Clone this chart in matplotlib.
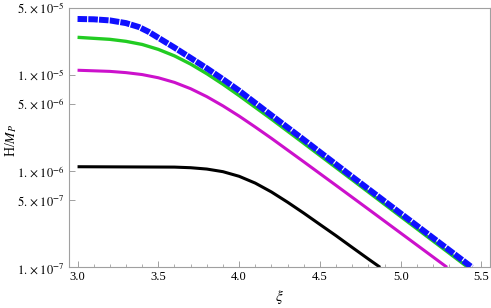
import matplotlib
matplotlib.use("Agg")
import matplotlib.pyplot as plt
from matplotlib.ticker import FixedLocator, FixedFormatter, MultipleLocator, FormatStrFormatter

plt.rcParams['font.family'] = ['Liberation Serif', 'DejaVu Serif']
plt.rcParams['mathtext.fontset'] = 'stix'

# values (xi, H/M_P)
xi_blue = [3.0, 3.1, 3.2, 3.3, 3.38, 3.44, 3.5, 3.6, 3.7, 3.8, 3.9, 4.0, 4.2, 4.4, 4.7, 5.0, 5.441]
h_blue = [3.81e-5, 3.78e-5, 3.68e-5, 3.45e-5, 3.14e-5, 2.80e-5, 2.43e-5, 1.92e-5, 1.50e-5,
          1.17e-5, 9.0e-6, 6.85e-6, 3.80e-6, 2.12e-6, 8.73e-7, 3.63e-7, 1.0e-7]

xi_green = [3.0, 3.2, 3.3, 3.4, 3.5, 3.6, 3.7, 3.8, 3.9, 4.0, 4.2, 4.4, 4.7, 5.0, 5.416]
h_green = [2.455e-5, 2.34e-5, 2.23e-5, 2.07e-5, 1.84e-5, 1.575e-5, 1.294e-5, 1.028e-5,
           7.98e-6, 6.09e-6, 3.47e-6, 1.945e-6, 8.11e-7, 3.37e-7, 1.0e-7]

xi_magenta = [3.0, 3.2, 3.3, 3.4, 3.5, 3.6, 3.7, 3.8, 3.9, 4.0, 4.1, 4.2, 4.4, 4.6, 4.8, 5.0, 5.287]
h_magenta = [1.117e-5, 1.087e-5, 1.055e-5, 1.007e-5, 9.33e-6, 8.35e-6, 7.18e-6, 5.94e-6,
             4.76e-6, 3.73e-6, 2.87e-6, 2.19e-6, 1.25e-6, 7.10e-7, 4.02e-7, 2.27e-7, 1.0e-7]

xi_black = [3.0, 3.6, 3.7, 3.8, 3.9, 4.0, 4.1, 4.2, 4.3, 4.4, 4.5, 4.6, 4.7, 4.8, 4.873]
h_black = [1.11e-6, 1.10e-6, 1.084e-6, 1.05e-6, 9.86e-7, 8.83e-7, 7.50e-7, 6.07e-7,
           4.75e-7, 3.66e-7, 2.79e-7, 2.13e-7, 1.61e-7, 1.22e-7, 1.0e-7]

y_ticks = [1e-7, 5e-7, 1e-6, 5e-6, 1e-5, 5e-5]
y_tick_labels = [r"$1.\times10^{-7}$", r"$5.\times10^{-7}$", r"$1.\times10^{-6}$",
                 r"$5.\times10^{-6}$", r"$1.\times10^{-5}$", r"$5.\times10^{-5}$"]

fig = plt.figure(figsize=(4.91, 3.08), dpi=100)
ax = fig.add_axes([0.1405, 0.1321, 0.8575, 0.8432])

ax.plot(xi_black, h_black, color='black', lw=2.2, solid_capstyle='butt')
ax.plot(xi_magenta, h_magenta, color='#cc11cc', lw=2.2, solid_capstyle='butt')
ax.plot(xi_green, h_green, color='#22cc22', lw=2.4, solid_capstyle='butt')
ax.plot(xi_blue, h_blue, color='#1010ff', lw=4.3, dashes=(1.6, 0.2),
        dash_capstyle='butt', zorder=5)

ax.set_yscale('log')
ax.set_xlim(2.947, 5.553)
ax.set_ylim(1e-7, 5e-5)

ax.yaxis.set_major_locator(FixedLocator(y_ticks))
ax.yaxis.set_major_formatter(FixedFormatter(y_tick_labels))
ax.yaxis.set_minor_locator(FixedLocator([]))
ax.xaxis.set_major_locator(MultipleLocator(0.5))
ax.xaxis.set_minor_locator(MultipleLocator(0.1))
ax.xaxis.set_major_formatter(FormatStrFormatter('%.1f'))

frame = '#a0a0a0'
for s in ax.spines.values():
    s.set_color(frame)
    s.set_linewidth(0.8)
ax.tick_params(which='both', direction='in', color=frame, labelsize=9,
               top=False, right=False, pad=3)
ax.tick_params(which='major', length=4, width=0.7)
ax.tick_params(which='minor', length=2, width=0.6)

fig.text(0.570, 0.035, r"$\xi$", fontsize=11, ha='center', va='center')
fig.text(0.022, 0.545, r"H/$M_P$", fontsize=10, ha='center', va='center', rotation=90)

fig.savefig('out.png', dpi=100)
